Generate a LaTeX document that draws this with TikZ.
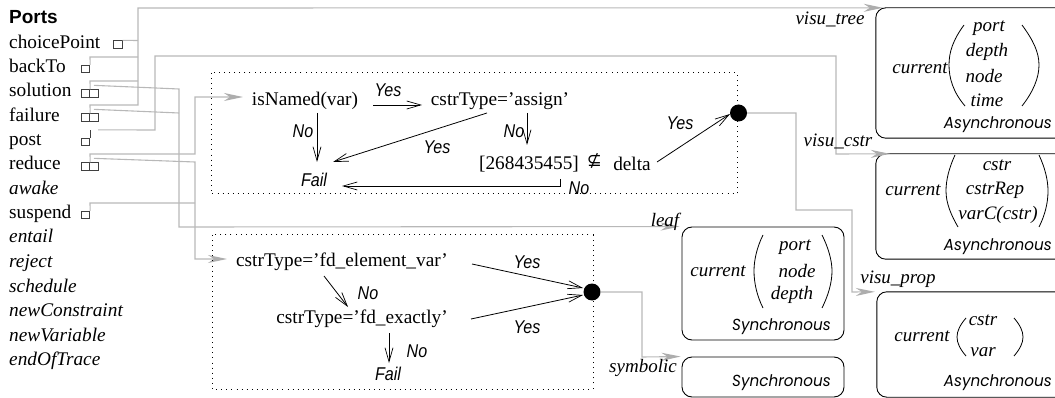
\documentclass[tikz,border=0pt]{standalone}
\usepackage{fontspec}
\setmainfont{Liberation Serif}
\newfontfamily\hsans[FakeStretch=0.87]{Liberation Sans}
\newfontfamily\hbold{Liberation Sans}
\newfontfamily\agoth[FakeStretch=0.95]{Poppins}
\usetikzlibrary{arrows.meta,calc}
\tikzset{
  tx/.style={inner sep=0pt,font=\fontsize{19.3}{22}\selectfont},
  port/.style={tx,anchor=base west},
  iport/.style={tx,anchor=base west,font=\fontsize{19.3}{22}\selectfont\itshape},
  itx/.style={tx,font=\fontsize{19}{22}\selectfont\itshape},
  lab/.style={inner sep=0pt,font=\fontsize{18.5}{20}\hsans\itshape},
  syn/.style={inner sep=0pt,anchor=east,font=\fontsize{16}{18}\agoth\itshape},
  cell/.style={draw=black!75,line width=0.8pt,inner sep=0pt,minimum width=8.5pt,minimum height=7.5pt},
  gl/.style={draw=black!28,line width=1.1pt},
  ga/.style={gl,-{Stealth[length=19pt,width=8pt,inset=6pt,color=black!32]}},
  ba/.style={draw=black,line width=0.8pt,-{Straight Barb[length=14pt,width=8pt,line width=0.7pt]}},
  rbox/.style={draw=black,line width=0.9pt,rounded corners=10pt,inner sep=0pt},
  frame/.style={inner sep=0pt},
  dbox/.style={draw=black,line width=1pt,dash pattern=on 1pt off 4.1pt},
  dot/.style={circle,fill=black,inner sep=0pt},
  par/.style={draw=black,line width=0.8pt},
  rel/.style={shift={#1}},
}
\begin{document}
\begin{tikzpicture}[x=1pt,y=-1pt]
\useasboundingbox (0,0) rectangle (1055,398);
% ports list
\node[inner sep=0pt,anchor=base west,font=\fontsize{19}{22}\hbold\bfseries] (ports) at (9,24) {Ports};
\node[port] (lchoice) at (9,49) {choicePoint};
\node[port] (lback) at (9,73) {backTo};
\node[port] (lsol) at (9,97) {solution};
\node[port] (lfail) at (9,122) {failure};
\node[port] (lpost) at (9,146) {post};
\node[port] (lred) at (9,170) {reduce};
\node[iport] (lawake) at (9,195) {awake};
\node[port] (lsusp) at (9,219) {suspend};
\node[iport] (lentail) at (9,243) {entail};
\node[iport] (lreject) at (9,268) {reject};
\node[iport] (lsched) at (9,292) {schedule};
\node[iport] (lnewc) at (9,316) {newConstraint};
\node[iport] (lnewv) at (9,341) {newVariable};
\node[iport] (lend) at (9,365) {endOfTrace};
% port cells
\node[cell] (pchoice) at (118,44.5) {};
\node[cell] (pback) at (85.5,69) {};
\node[cell] (psol) at (85.5,93.5) {};
\node[cell] (psolb) at (94,93.5) {};
\node[cell] (pfail) at (85.5,117.5) {};
\node[cell] (pfailb) at (94,117.5) {};
\node[cell] (ppost) at (85.5,142) {};
\node[cell] (pred) at (85.5,166.5) {};
\node[cell] (predb) at (94,166.5) {};
\node[cell] (psusp) at (85.5,215) {};
% boxes (those at the right run off the page)
\node[frame,minimum width=179pt,minimum height=130pt] (b1) at (965.5,73) {};
\node[frame,minimum width=179pt,minimum height=105pt] (b2) at (965.5,206.5) {};
\node[frame,minimum width=178pt,minimum height=105pt] (b3) at (966,344.5) {};
\draw[rbox] (b1.north east) -- (b1.north west) -- (b1.south west) -- (b1.south east);
\draw[rbox] (b2.north east) -- (b2.north west) -- (b2.south west) -- (b2.south east);
\draw[rbox] (b3.north east) -- (b3.north west) -- (b3.south west) -- (b3.south east);
\node[rbox,minimum width=162pt,minimum height=113pt] (b4) at (763,283.5) {};
\node[rbox,minimum width=162pt,minimum height=40pt] (b5) at (763,377) {};
% dots
\node[dot,minimum size=17pt] (d1) at (738.5,113) {};
\node[dot,minimum size=17pt] (d2) at (592,292) {};
% texts of the diagrams
\node[tx] (isn) at (305,101) {isNamed(var)};
\node[tx] (ctA) at (500,101) {cstrType=’assign’};
\node[tx] (num) at (529,164) {[268435455]};
\node[inner sep=0pt,font=\fontsize{18}{20}\selectfont] (nsub) at (594.5,161) {\fontspec{DejaVu Sans}⊈};
\node[tx] (delta) at (632,164) {delta};
\node[lab] (fa) at (314,180) {Fail};
\node[lab] (y1) at (388,90) {Yes};
\node[lab] (n1) at (303,131) {No};
\node[lab] (n2) at (514,131) {No};
\node[lab] (y2) at (437,147) {Yes};
\node[lab] (n3) at (579,188) {No};
\node[lab] (y3) at (680,123) {Yes};
\node[tx] (fd1) at (342,262) {cstrType=’fd\_element\_var’};
\node[tx] (fd2) at (362,319) {cstrType=’fd\_exactly’};
\node[lab] (fa2) at (388,374) {Fail};
\node[lab] (y4) at (527,262) {Yes};
\node[lab] (n4) at (368,293) {No};
\node[lab] (y5) at (527,327) {Yes};
\node[lab] (n5) at (417,351) {No};
% grey connectors
\draw[gl] (pchoice.north east) -- (138,40.5);
\draw[ga] (pfail.north east) -- (90,105) -- (138,105) -- (138,8) -- ([xshift=7pt]b1.north west);
\draw[gl] (pback.north east) -- (90,57) -- (138,57);
\draw[gl] (psol.north east) -- (90,81) -- (138,81);
\draw[ga] (ppost.north east) ++(8,-8) -- (155,130) -- (155,56) -- (836,56) -- (836,154) -- ([xshift=14pt]b2.north west);
\draw[ga] (psolb.north) ++(0,-4) -- (179,89) -- (179,227) -- ([xshift=-2pt]b4.north west);
\draw[gl] (pfailb.north) ++(0,-4) -- (179,113);
\draw[ga] (pred.north east) -- (90,154) -- (195,154) -- (195,97) -- ([rel={(-62,-4)}]isn.center);
\draw[ga] (predb.north) ++(0,-4) -- (195,162) -- (195,259) -- ([rel={(-115,-3)}]fd1.center);
\draw[gl] (psusp.north east) -- (90,203) -- (195,203);
\draw[ga] (d1.east) -- (796,113) -- (796,210) -- (852,210) -- (852,292) -- ([xshift=-2pt]b3.north west);
\draw[ga] (d2.east) -- (642,292) -- (642,357) -- ([xshift=-1pt]b5.north west);
\draw[line width=0.8pt,black!75] (ppost.north east) -- ++(0,-8);
% dotted boxes
\draw[dbox] (211,73) rectangle (737,194);
\draw[dbox] (212,235) rectangle (593,389);
% first diagram arrows
\draw[ba] ([rel={(68,4)}]isn.center) -- ([rel={(-78,4)}]ctA.center);
\draw[ba] ([rel={(12,12)}]isn.center) -- ([rel={(3,-18)}]fa.center);
\draw[ba] ([rel={(-13,12)}]ctA.center) -- ([rel={(19,-18)}]fa.center);
\draw[ba] ([rel={(27,12)}]ctA.center) -- ([rel={(-2,-19)}]num.center);
\draw[ba] ([rel={(31,15)}]num.center) -- ([rel={(31,22)}]num.center) -- ([rel={(28,6)}]fa.center);
\draw[ba] ([rel={(25,-2)}]delta.center) -- ([rel={(-8.5,1)}]d1.center);
% second diagram arrows
\draw[ba] ([rel={(130,2)}]fd1.center) -- ([rel={(-9,-4)}]d2.center);
\draw[ba] ([rel={(109,0)}]fd2.center) -- ([rel={(-9,3)}]d2.center);
\draw[ba] ([rel={(-18,14)}]fd1.center) -- ([rel={(-14,-12)}]fd2.center);
\draw[ba] ([rel={(27,14)}]fd2.center) -- ([rel={(1,-11)}]fa2.center);
% box labels
\node[itx] (vt) at (830,19) {visu\_tree};
\node[itx] (vc) at (838,141) {visu\_cstr};
\node[itx] (vp) at (898,279) {visu\_prop};
\node[itx] (lf) at (665,222) {leaf};
\node[itx] (sy) at (643,368) {symbolic};
% box 1 contents
\node[itx] (c1) at (920,68) {current};
\node[itx] (t1a) at (989,28) {port};
\node[itx] (t1b) at (987,52) {depth};
\node[itx] (t1c) at (984,76) {node};
\node[itx] (t1d) at (987,100) {time};
\node[syn] (a1) at (1052,125) {Asynchronous};
\draw[par] (964,25) .. controls (953,40) and (949,52) .. (949,65) .. controls (949,78) and (953,92) .. (965,106);
\draw[par] (1022,25) .. controls (1033,40) and (1039,52) .. (1039,65) .. controls (1039,78) and (1033,92) .. (1022,106);
% box 2 contents
\node[itx] (c2) at (913,190) {current};
\node[itx] (t2a) at (997,165) {cstr};
\node[itx] (t2b) at (995,190) {cstrRep};
\node[itx] (t2c) at (998,215) {varC(cstr)};
\node[syn] (a2) at (1052,247) {Asynchronous};
\draw[par] (955,155) .. controls (949,168) and (946,180) .. (946,191) .. controls (946,203) and (951,215) .. (958,227);
\draw[par] (1039,155) .. controls (1045,168) and (1048,180) .. (1048,191) .. controls (1048,203) and (1045,215) .. (1039,227);
% box 3 contents
\node[itx] (c3) at (922,336) {current};
\node[itx] (t3a) at (983,320) {cstr};
\node[itx] (t3b) at (983,352) {var};
\node[syn] (a3) at (1052,383) {Asynchronous};
\draw[par] (966,318) .. controls (960,325) and (957,331) .. (957,337) .. controls (957,343) and (960,349) .. (966,356);
\draw[par] (1014,318) .. controls (1020,325) and (1023,331) .. (1023,337) .. controls (1023,343) and (1020,349) .. (1014,356);
% box 4 contents
\node[itx] (c4) at (718,271) {current};
\node[itx] (t4a) at (795,247) {port};
\node[itx] (t4b) at (797,271) {node};
\node[itx] (t4c) at (792,295) {depth};
\node[syn] (a4) at (831,327) {Synchronous};
\draw[par] (763,235) .. controls (757,247) and (754,260) .. (754,271) .. controls (754,283) and (757,296) .. (763,308);
\draw[par] (822,235) .. controls (828,247) and (832,260) .. (832,271) .. controls (832,283) and (828,296) .. (822,308);
% box 5 contents
\node[syn] (a5) at (831,383) {Synchronous};
\end{tikzpicture}
\end{document}
